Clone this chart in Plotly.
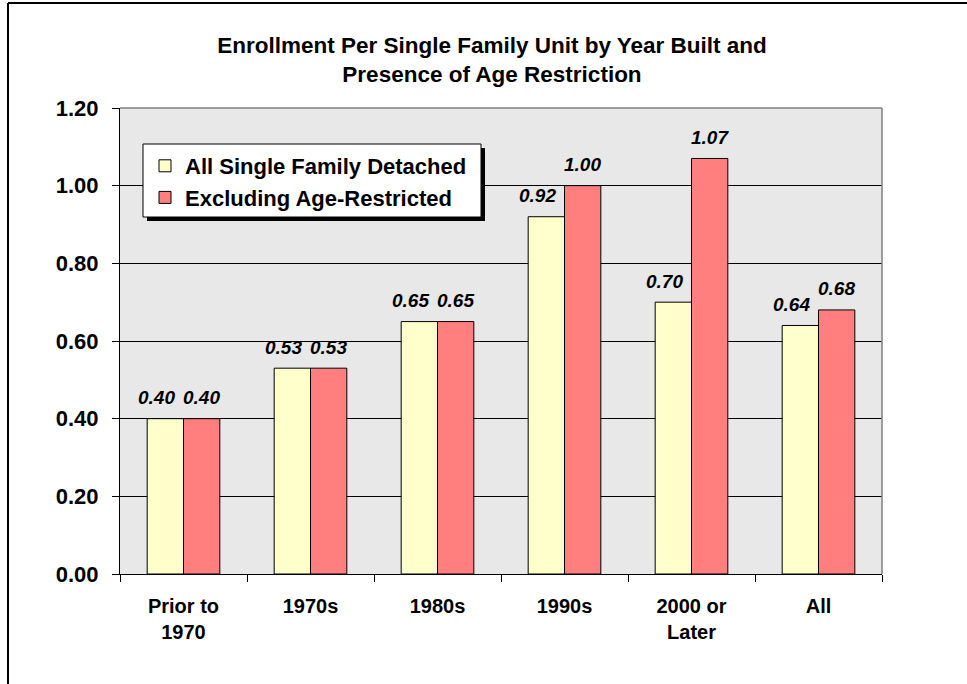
import plotly.graph_objects as go

# Enrollment per single family unit, by decade built
categories = ["Prior to<br>1970", "1970s", "1980s", "1990s", "2000 or<br>Later", "All"]
all_sfd = [0.40, 0.53, 0.65, 0.92, 0.70, 0.64]
excl_age_restricted = [0.40, 0.53, 0.65, 1.00, 1.07, 0.68]
series_names = ["All Single Family Detached", "Excluding Age-Restricted"]
y_ticks = [0.0, 0.2, 0.4, 0.6, 0.8, 1.0, 1.2]

W, H = 967, 684
ML, MR, MT, MB = 120, 85, 108, 110
PW, PH = W - ML - MR, H - MT - MB


def px_x(px):
    return (px - ML) / PW


def px_y(py):
    return (H - MB - py) / PH


FONT = "Arial, Liberation Sans, sans-serif"
YELLOW = "#FFFFCC"
PINK = "#FF7F7F"

fig = go.Figure()
fig.add_bar(x=categories, y=all_sfd, name=f"<b>{series_names[0]}</b>",
            marker=dict(color=YELLOW, line=dict(color="black", width=1)))
fig.add_bar(x=categories, y=excl_age_restricted, name=f"<b>{series_names[1]}</b>",
            marker=dict(color=PINK, line=dict(color="black", width=1)))

# value labels above each bar (left-series labels nudged left so pairs don't collide)
bar_px = PW / len(categories) * (1 - 0.428) / 2
annotations = []
for vals, shift in ((all_sfd, -bar_px / 2 - 9), (excl_age_restricted, bar_px / 2)):
    for c, v in zip(categories, vals):
        annotations.append(dict(
            x=c, y=v, xref="x", yref="y", text=f"<b><i>{v:.2f}</i></b>",
            showarrow=False, xshift=shift, yshift=21, yanchor="middle",
            font=dict(family=FONT, size=19, color="black")))

# legend frame: drop shadow plus white box with a black border
LEG_L, LEG_T, LEG_R, LEG_B = 143, 144, 481, 217
shapes = [
    dict(type="rect", xref="paper", yref="paper",
         x0=px_x(LEG_L + 4), x1=px_x(LEG_R + 4), y0=px_y(LEG_B + 4), y1=px_y(LEG_T + 4),
         fillcolor="black", line=dict(width=0), layer="above"),
    dict(type="rect", xref="paper", yref="paper",
         x0=px_x(LEG_L), x1=px_x(LEG_R), y0=px_y(LEG_B), y1=px_y(LEG_T),
         fillcolor="white", line=dict(color="black", width=1), layer="above"),
    # grey plot-area border at top and right
    dict(type="line", xref="paper", yref="paper", x0=0, x1=1, y0=1, y1=1,
         line=dict(color="#808080", width=1.5), layer="above"),
    dict(type="line", xref="paper", yref="paper", x0=1, x1=1, y0=0, y1=1,
         line=dict(color="#808080", width=1.5), layer="above"),
    # outer chart frame
    dict(type="line", xref="paper", yref="paper", x0=px_x(8), x1=px_x(1000),
         y0=px_y(3), y1=px_y(3), line=dict(color="black", width=2)),
    dict(type="line", xref="paper", yref="paper", x0=px_x(8), x1=px_x(8),
         y0=px_y(3), y1=px_y(720), line=dict(color="black", width=2)),
]

fig.update_layout(
    width=W, height=H,
    margin=dict(l=ML, r=MR, t=MT, b=MB),
    paper_bgcolor="white",
    plot_bgcolor="#e8e8e8",
    barmode="group", bargap=0.428, bargroupgap=0,
    font=dict(family=FONT, color="black"),
    title=dict(
        text="<b>Enrollment Per Single Family Unit by Year Built and<br>Presence of Age Restriction</b>",
        xref="container", x=492 / W, xanchor="center", y=1 - 53 / H, yanchor="top",
        font=dict(family=FONT, size=22.5, color="black")),
    legend=dict(
        x=px_x(LEG_L + 2), y=px_y(LEG_T + 1), xanchor="left", yanchor="top",
        bgcolor="rgba(0,0,0,0)", borderwidth=0,
        font=dict(family=FONT, size=22, color="black"),
        itemclick=False, traceorder="normal"),
    xaxis=dict(
        type="category", tickson="boundaries", ticks="outside", ticklen=7,
        tickcolor="black", showline=True, linecolor="black", linewidth=1,
        showgrid=False, ticklabelstandoff=14,
        tickvals=categories,
        ticktext=[f"<b>{c}</b>" for c in categories],
        tickfont=dict(family=FONT, size=20, color="black")),
    yaxis=dict(
        range=[0, 1.2], tickvals=y_ticks,
        ticktext=[f"<b>{t:.2f}</b>" for t in y_ticks],
        ticks="outside", ticklen=7, tickcolor="black",
        showline=True, linecolor="black", linewidth=1,
        showgrid=True, gridcolor="black", gridwidth=1,
        zeroline=False, ticklabelstandoff=9,
        tickfont=dict(family=FONT, size=22, color="black")),
    annotations=annotations,
    shapes=shapes,
    showlegend=True,
)

fig.write_html("out.html")
